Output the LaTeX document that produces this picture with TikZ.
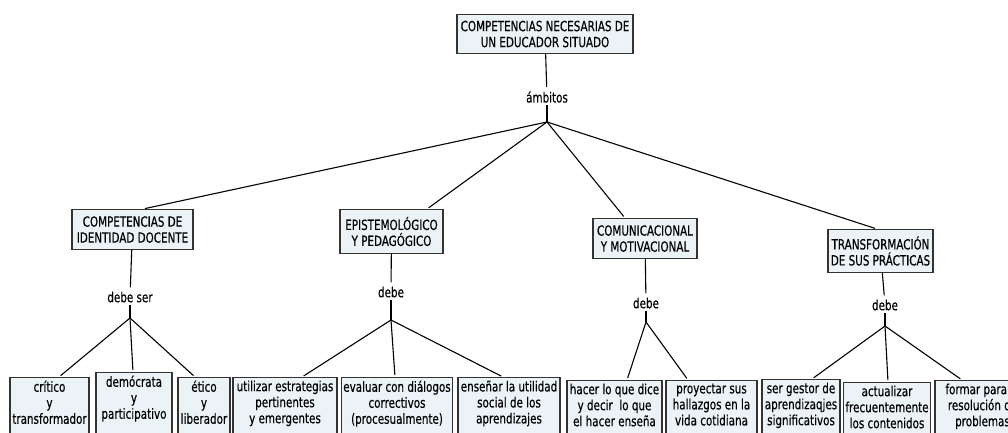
\documentclass[tikz,border=0pt]{standalone}
\usepackage{fontspec}
\setmainfont{DejaVu Sans}[FakeStretch=0.74,FakeBold=0.35]
\usepackage{xcolor}
\usepackage{tikz}
\definecolor{boxfill}{RGB}{236,243,247}
\tikzset{
  box/.style={draw=black!80, fill=boxfill, line width=1.1pt, inner xsep=2pt, inner ysep=3pt,
    align=center, anchor=north, font=\fontsize{14}{16}\selectfont},
  leaf/.style={box, text depth=60pt},
  lbl/.style={inner sep=2pt, font=\fontsize{14}{16}\selectfont},
  link/.style={line width=1.1pt, shorten >=2pt},
  knot/.style={line width=1.7pt}
}

\begin{document}
\begin{tikzpicture}[x=1pt,y=-1pt]
\useasboundingbox (0,0) rectangle (1008,433);
\clip (0,0) rectangle (1008,433);
\fill[white] (0,0) rectangle (1008,433);

% raiz
\node[box, minimum width=176pt, minimum height=39pt] (root) at (545,14) {COMPETENCIAS NECESARIAS DE\\UN EDUCADOR SITUADO};
\node[lbl] (amb) at (547,97) {ámbitos};
\coordinate (j0) at (547,122);
\draw[link] (root) -- (amb);
\draw[knot] (amb) -- (j0);

% ambitos
\node[box, minimum width=121pt, minimum height=40pt] (cid) at (132.5,209) {COMPETENCIAS DE\\IDENTIDAD DOCENTE};
\node[box, minimum width=103pt, minimum height=44pt] (epi) at (391.5,209) {EPISTEMOLÓGICO\\Y PEDAGÓGICO};
\node[box, minimum width=104pt, minimum height=40pt] (com) at (645,218) {COMUNICACIONAL\\Y MOTIVACIONAL};
\node[box, minimum width=105pt, minimum height=43pt] (tra) at (880.5,229) {TRANSFORMACIÓN\\DE SUS PRÁCTICAS};
\draw[link] (j0) -- ([xshift=10.5pt]cid.north);
\draw[link] (j0) -- ([xshift=35.5pt]epi.north);
\draw[link] (j0) -- ([xshift=-20pt]com.north);
\draw[link] (j0) -- ([xshift=-3.5pt]tra.north);

% identidad docente
\node[lbl] (ds1) at (130,297) {debe ser};
\coordinate (j1) at (130,318);
\draw[link] (cid) -- (ds1);
\draw[knot] (ds1) -- (j1);
\node[leaf, minimum width=79pt] (cri) at (49.5,377) {crítico\\y\\transformador};
\node[leaf, minimum width=76pt] (dem) at (134,372) {demócrata\\y\\participativo};
\node[leaf, minimum width=52pt] (eti) at (204,377) {ético\\y\\liberador};
\draw[link] (j1) -- ([xshift=9.5pt]cri.north);
\draw[link] (j1) -- ([xshift=-1pt]dem.north);
\draw[link] (j1) -- ([xshift=-9pt]eti.north);

% epistemologico
\node[lbl] (db2) at (391,292) {debe};
\coordinate (j2) at (391,320);
\draw[link] (epi) -- (db2);
\draw[knot] (db2) -- (j2);
\node[leaf, minimum width=104pt] (uti) at (285,377) {utilizar estrategias\\pertinentes\\y emergentes};
\node[leaf, minimum width=110pt] (eva) at (397,377) {evaluar con diálogos\\correctivos\\(procesualmente)};
\node[leaf, minimum width=102pt] (ens) at (509,377) {enseñar la utilidad\\social de los\\aprendizajes};
\draw[link] (j2) -- ([xshift=17pt]uti.north);
\draw[link] (j2) -- ([xshift=-2pt]eva.north);
\draw[link] (j2) -- ([xshift=-6pt]ens.north);

% comunicacional
\node[lbl] (db3) at (646,303) {debe};
\coordinate (j3) at (646,322);
\draw[link] (com) -- (db3);
\draw[knot] (db3) -- (j3);
\node[leaf, minimum width=95pt] (hac) at (614.5,380) {hacer lo que dice\\y decir\ \ lo que\\el hacer enseña};
\node[leaf, minimum width=91pt] (pro) at (711.5,380) {proyectar sus\\hallazgos en la\\vida cotidiana};
\draw[link] (j3) -- ([xshift=12.5pt]hac.north);
\draw[link] (j3) -- ([xshift=-23.5pt]pro.north);

% transformacion
\node[lbl] (db4) at (885,305) {debe};
\coordinate (j4) at (885,326);
\draw[link] (tra) -- (db4);
\draw[knot] (db4) -- (j4);
\node[leaf, minimum width=78pt] (ges) at (801,379) {ser gestor de\\aprendizaqjes\\significativos};
\node[leaf, minimum width=82pt] (act) at (887,382) {actualizar\\frecuentemente\\los contenidos};
\node[leaf, minimum width=95pt] (frm) at (982.5,380) {formar para la\\resolución de\\problemas};
\draw[link] (j4) -- ([xshift=11pt]ges.north);
\draw[link] (j4) -- ([xshift=1pt]act.north);
\draw[link] (j4) -- ([xshift=-20.5pt]frm.north);
\end{tikzpicture}
\end{document}
